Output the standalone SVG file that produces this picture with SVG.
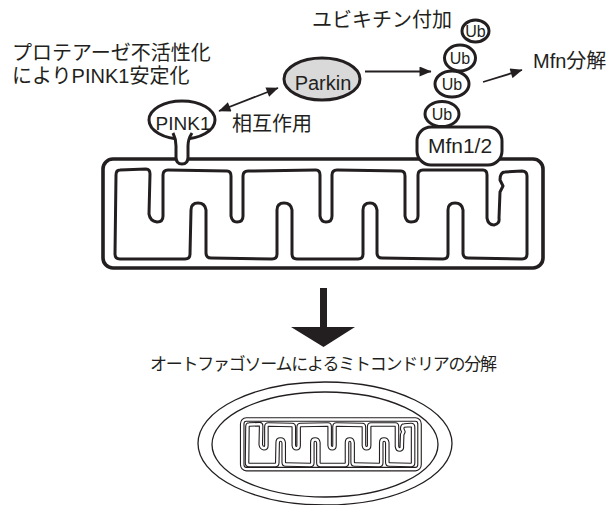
<svg xmlns="http://www.w3.org/2000/svg" xmlns:xlink="http://www.w3.org/1999/xlink" width="615" height="505" viewBox="0 0 615 505">
  <style>
    text { font-family: "Liberation Sans", "Noto Sans CJK JP", sans-serif; fill: #231f20; }
    .jp { font-size: 20px; }
    .node { stroke: #231f20; stroke-width: 3; fill: #ffffff; }
    .parkin { fill: #d9d9d9; }
    .conn { stroke: #231f20; stroke-width: 1.8; fill: none; }
    .membrane { stroke: #231f20; stroke-width: 3.6; fill: none; }
    .cristae { stroke: #231f20; stroke-width: 3; fill: none; stroke-linejoin: round; }
    .outline-dark { stroke: #231f20; stroke-width: 4.6; fill: none; stroke-linejoin: round; }
    .outline-light { stroke: #ffffff; stroke-width: 2.4; fill: none; stroke-linejoin: round; }
    .thin { stroke: #231f20; stroke-width: 1.3; fill: none; }
    .ub text { font-size: 16px; }
  </style>
  <defs>
    <marker id="head" viewBox="0 0 12 10" refX="11.5" refY="5" markerWidth="13" markerHeight="10" markerUnits="userSpaceOnUse" orient="auto-start-reverse">
      <path d="M0,0 L12,5 L0,10 Z" fill="#231f20"/>
    </marker>
    <!-- mitochondrion outer membrane -->
    <rect id="mito-outer" x="103" y="159" width="440" height="109" rx="10" vector-effect="non-scaling-stroke"/>
    <!-- inner membrane folded into cristae -->
    <path id="mito-cristae" vector-effect="non-scaling-stroke" d="M 120 170 L 146 169 Q 150 169 150 174 L 149 214 Q 150 221 157 222 Q 163 222 163 216 L 163 175 Q 163 170 168 170 L 227 171 Q 231 171 231 176 L 231 216 Q 232 222 237 222 Q 243 222 243 216 L 243 176 Q 243 171 248 171 L 316 170 Q 320 170 320 175 L 320 216 Q 321 222 326 222 Q 332 222 332 216 L 332 175 Q 332 170 337 170 L 401 171 Q 405 171 405 176 L 405 216 Q 406 222 411 222 Q 418 222 418 216 L 418 175 Q 418 170 423 170 L 483 170 Q 487 170 487 175 L 487 218 Q 488 225 494 225 Q 500 224 499 218 L 500 192 L 503 186 L 500 180 Q 500 172 505 172 L 522 171 Q 527 171 527 176 L 527 254 Q 527 259 522 259 L 468 258 Q 463 258 463 253 L 463 210 Q 462 203 455 203 Q 448 203 448 210 L 448 254 Q 448 259 443 259 L 382 258 Q 377 258 377 253 L 377 210 Q 376 203 370 203 Q 363 203 363 210 L 363 254 Q 363 259 358 259 L 297 259 Q 292 259 292 254 L 292 210 Q 291 203 284 203 Q 277 203 277 210 L 277 254 Q 277 259 272 259 L 211 258 Q 206 258 206 253 L 206 210 Q 205 203 198 203 Q 191 203 191 210 L 190 254 Q 190 259 185 259 L 120 259 Q 115 259 115 254 L 116 175 Q 116 170 120 170 Z"/>
  </defs>

  <!-- labels -->
  <g id="labels">
    <text class="jp" x="12" y="60">プロテアーゼ不活性化</text>
    <text class="jp" x="12" y="83">によりPINK1安定化</text>
    <text class="jp" x="312" y="27">ユビキチン付加</text>
    <text class="jp" x="232" y="131">相互作用</text>
    <text class="jp" x="533" y="68">Mfn分解</text>
    <text x="323.5" y="370" font-size="17" text-anchor="middle" textLength="347" lengthAdjust="spacing">オートファゴソームによるミトコンドリアの分解</text>
  </g>

  <!-- mitochondrion -->
  <g id="mitochondrion">
    <use xlink:href="#mito-outer" class="membrane"/>
    <use xlink:href="#mito-cristae" class="cristae"/>
  </g>

  <!-- PINK1 anchored in the outer membrane -->
  <g id="pink1">
    <ellipse class="node" cx="182" cy="120" rx="33" ry="19"/>
    <path class="node" d="M 173 133 Q 176 139 176 146 L 176 157 Q 176 164 182 164 Q 188 164 188 157 L 188 146 Q 188 139 192 133"/>
    <text x="183" y="130" font-size="19" text-anchor="middle">PINK1</text>
  </g>

  <g id="parkin">
    <ellipse class="node parkin" cx="322" cy="79" rx="38" ry="21"/>
    <text x="323" y="90" font-size="20" text-anchor="middle">Parkin</text>
  </g>

  <g id="mfn">
    <rect class="node" x="417" y="127" width="85" height="38" rx="14"/>
    <text x="460" y="153" font-size="21" text-anchor="middle">Mfn1/2</text>
  </g>

  <!-- ubiquitin chain -->
  <g id="ub1" class="ub">
    <ellipse class="node" cx="442" cy="114" rx="17" ry="12.5"/>
    <text x="442" y="120" text-anchor="middle">Ub</text>
  </g>
  <g id="ub2" class="ub">
    <ellipse class="node" cx="452" cy="84" rx="17" ry="13"/>
    <text x="452" y="90" text-anchor="middle">Ub</text>
  </g>
  <g id="ub3" class="ub">
    <ellipse class="node" cx="460" cy="58" rx="15.5" ry="13"/>
    <text x="460" y="64" text-anchor="middle">Ub</text>
  </g>
  <g id="ub4" class="ub">
    <ellipse class="node" cx="475.5" cy="31" rx="13.5" ry="11"/>
    <text x="475.5" y="36.5" text-anchor="middle" font-size="14.5">Ub</text>
  </g>

  <!-- connectors -->
  <g id="connectors">
    <line class="conn" x1="219" y1="111" x2="278" y2="88" marker-start="url(#head)" marker-end="url(#head)"/>
    <line class="conn" x1="365" y1="71.5" x2="431" y2="71.5" marker-end="url(#head)"/>
    <line class="conn" x1="483" y1="82" x2="522" y2="70" marker-end="url(#head)"/>
    <path d="M 320 288 L 327 288 L 327 327 L 355 327 L 323.5 347 L 291 327 L 320 327 Z" fill="#231f20"/>
  </g>

  <!-- autophagosome engulfing the mitochondrion -->
  <g id="autophagosome">
    <ellipse class="thin" cx="325" cy="443.5" rx="127" ry="61.5"/>
    <ellipse class="thin" cx="325" cy="444.5" rx="113" ry="52.5"/>
    <g transform="translate(200.7 347.3) scale(0.403 0.4545)">
      <use xlink:href="#mito-outer" class="outline-dark"/>
      <use xlink:href="#mito-outer" class="outline-light"/>
      <use xlink:href="#mito-cristae" class="outline-dark"/>
      <use xlink:href="#mito-cristae" class="outline-light"/>
    </g>
  </g>
</svg>
